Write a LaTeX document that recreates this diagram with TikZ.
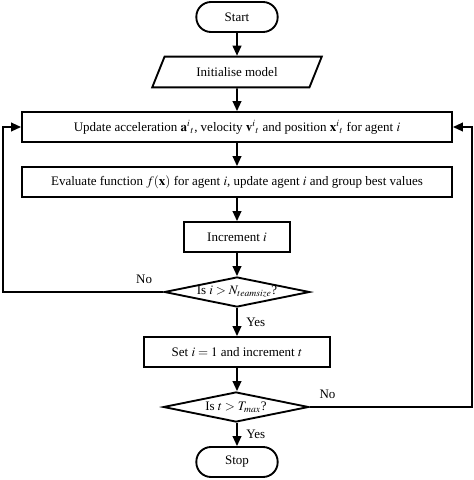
\documentclass[tikz,border=0pt]{standalone}
\usepackage{amsmath, amssymb}
\usepackage{mathptmx}
\usepackage{fontspec}
\setmainfont{Liberation Serif}
\usetikzlibrary{shapes.geometric, arrows.meta}

\begin{document}
\begin{tikzpicture}[x=0.75pt, y=-0.75pt,
  every node/.style={font=\fontsize{9.75}{12}\selectfont},
  box/.style={draw, line width=1.4pt, minimum height=22.5pt, inner sep=2pt},
  term/.style={box, rounded corners=11pt, minimum width=61pt},
  io/.style={draw, line width=1.4pt, trapezium, trapezium left angle=53,
    trapezium right angle=127, trapezium stretches=true,
    minimum width=127.5pt, minimum height=23pt, inner sep=0pt},
  decision/.style={draw, line width=1.4pt, diamond, aspect=5,
    minimum width=109pt, minimum height=22.5pt, inner sep=0pt},
  arr/.style={-{Triangle[length=7.5pt,width=6.5pt]}, line width=1.4pt}]

\useasboundingbox (0,0) rectangle (474,480);

% ======================
% Steps
% ======================
\node[term] (start) at (237,17) {Start};
\node[io] (init) at (237,72) {Initialise model};
\node[box, minimum width=322.5pt] (update) at (237,127)
  {Update acceleration $\mathbf{a}^{i}{}_{t}$, velocity $\mathbf{v}^{i}{}_{t}$ and position $\mathbf{x}^{i}{}_{t}$ for agent $i$};
\node[box, minimum width=322.5pt] (eval) at (237,182)
  {Evaluate function $f(\mathbf{x})$ for agent $i$, update agent $i$ and group best values};
\node[box, minimum width=80pt] (incr) at (237,237) {Increment $i$};
\node[decision] (dec1) at (237,292) {\makebox[0pt]{Is $i > N_{teamsize}$?}};
\node[box, minimum width=140pt] (set) at (237,352) {Set $i = 1$ and increment $t$};
\node[decision] (dec2) at (236,407) {\makebox[0pt]{Is $t > T_{max}$?}};
\node[term] (stop) at (237,462) {Stop};

% ======================
% Main flow
% ======================
\draw[arr] (start) -- (init);
\draw[arr] (init) -- (update);
\draw[arr] (update) -- (eval);
\draw[arr] (eval) -- (incr);
\draw[arr] (incr) -- (dec1);
\draw[arr] (dec1) -- node[right=3pt] {Yes} (set);
\draw[arr] (set) -- (dec2.north -| set.south);
\draw[arr] (dec2.south -| stop.north) -- node[right=3pt] {Yes} (stop);

% ======================
% Loops back
% ======================
\coordinate (lft) at (3,0);
\coordinate (rgt) at (472,0);
\draw[arr] (dec1.west) -- node[pos=0.12, above=2pt] {No} (dec1.west -| lft)
  |- (update.west);
\draw[arr] (dec2.east) -- node[pos=0.11, above=2pt] {No} (dec2.east -| rgt)
  |- (update.east);

\end{tikzpicture}
\end{document}
